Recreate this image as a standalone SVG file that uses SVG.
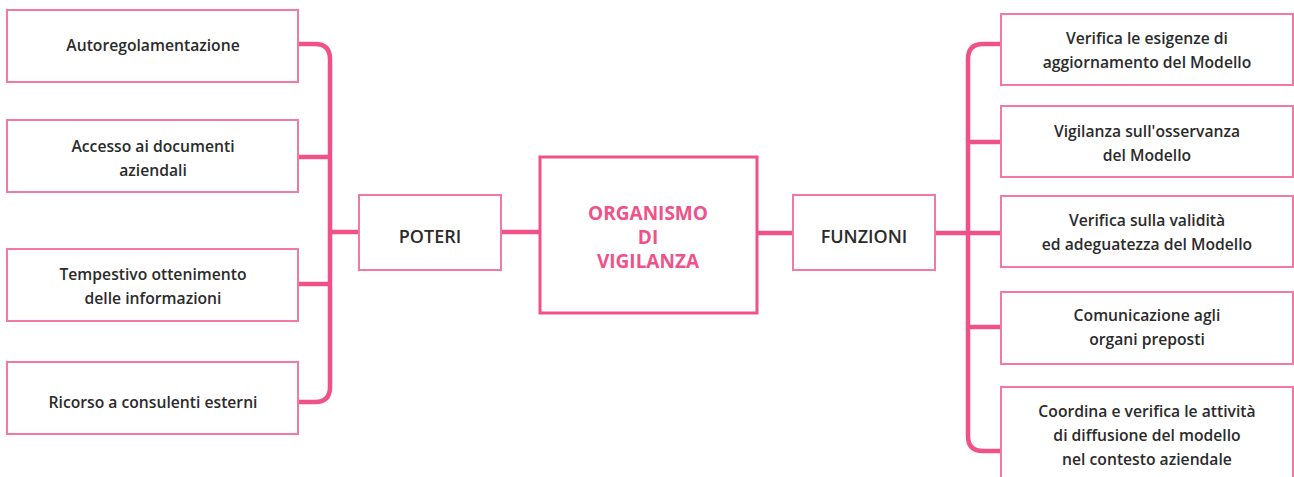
<svg xmlns="http://www.w3.org/2000/svg" width="1294" height="477" viewBox="0 0 1294 477">
<style>
.box{fill:#fff;stroke:#f27aa2;stroke-width:2}
.main{fill:#fff;stroke:#ef5289;stroke-width:3}
.t{font-family:"Open Sans",Lato,sans-serif;font-size:15.7px;font-weight:600;fill:#2b2b2b;text-anchor:middle}
.hub{font-family:"Open Sans",Lato,sans-serif;font-size:18px;font-weight:600;fill:#2b2b2b;text-anchor:middle}
.mt{font-family:"Open Sans",Lato,sans-serif;font-size:19px;font-weight:700;fill:#ef5289;text-anchor:middle}
.c{fill:none;stroke:#ef5289;stroke-width:4.5}
</style>
<rect width="1294" height="477" fill="#fff"/>
<g id="connectors">
<path class="c" d="M298,44 H315 Q330,44 330,59 V387 Q330,402 315,402 H298"/>
<path class="c" d="M298,157 H330 M298,284 H330 M330,232 H359 M501,232 H540"/>
<path class="c" d="M1001,44 H983 Q968,44 968,59 V436 Q968,451 983,451 H1001"/>
<path class="c" d="M968,142 H1001 M968,233 H1001 M968,327 H1001 M935,233 H968 M757,233 H793"/>
</g>
<g id="n-auto"><rect class="box" x="7" y="10" width="291" height="72"/><text class="t" x="153" y="51">Autoregolamentazione</text></g>
<g id="n-accesso"><rect class="box" x="7" y="120" width="291" height="72"/><text class="t" x="153" y="152">Accesso ai documenti</text><text class="t" x="153" y="176">aziendali</text></g>
<g id="n-tempestivo"><rect class="box" x="7" y="249" width="291" height="72"/><text class="t" x="153" y="280">Tempestivo ottenimento</text><text class="t" x="153" y="304">delle informazioni</text></g>
<g id="n-ricorso"><rect class="box" x="7" y="362" width="291" height="72"/><text class="t" x="153" y="408">Ricorso a consulenti esterni</text></g>
<g id="n-poteri"><rect class="box" x="359" y="195" width="142" height="75"/><text class="hub" x="430" y="243">POTERI</text></g>
<g id="n-organismo"><rect class="main" x="540" y="157" width="217" height="156"/><text class="mt" x="648" y="220">ORGANISMO</text><text class="mt" x="648" y="244">DI</text><text class="mt" x="648" y="268">VIGILANZA</text></g>
<g id="n-funzioni"><rect class="box" x="793" y="195" width="142" height="75"/><text class="hub" x="864" y="243">FUNZIONI</text></g>
<g id="n-verifica1"><rect class="box" x="1001" y="14" width="292" height="71"/><text class="t" x="1147" y="44">Verifica le esigenze di</text><text class="t" x="1147" y="68">aggiornamento del Modello</text></g>
<g id="n-vigilanza"><rect class="box" x="1001" y="106" width="292" height="71"/><text class="t" x="1147" y="137">Vigilanza sull'osservanza</text><text class="t" x="1147" y="161">del Modello</text></g>
<g id="n-verifica2"><rect class="box" x="1001" y="196" width="292" height="71"/><text class="t" x="1147" y="226">Verifica sulla validità</text><text class="t" x="1147" y="250">ed adeguatezza del Modello</text></g>
<g id="n-comunicazione"><rect class="box" x="1001" y="292" width="292" height="72"/><text class="t" x="1147" y="321">Comunicazione agli</text><text class="t" x="1147" y="345">organi preposti</text></g>
<g id="n-coordina"><rect class="box" x="1001" y="387" width="292" height="100"/><text class="t" x="1147" y="417">Coordina e verifica le attività</text><text class="t" x="1147" y="441">di diffusione del modello</text><text class="t" x="1147" y="465">nel contesto aziendale</text></g>
</svg>
